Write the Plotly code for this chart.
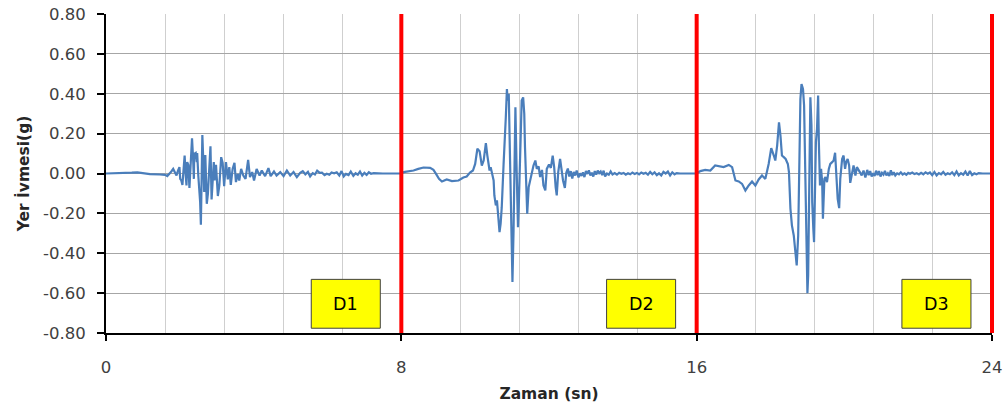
import plotly.graph_objects as go

# ---------------- data ----------------
# D1 record, 0-8 s
t1 = [0.0, 0.4, 0.7, 0.85, 1.0, 1.19, 1.46, 1.60, 1.66, 1.72, 1.77, 1.82, 1.87, 1.91, 1.95, 1.99,
      2.01, 2.04, 2.07, 2.10, 2.13, 2.16, 2.18, 2.20, 2.23, 2.26, 2.28, 2.33, 2.36, 2.38, 2.39,
      2.43, 2.46, 2.47, 2.50, 2.53, 2.55, 2.57, 2.59, 2.61, 2.64, 2.66, 2.69, 2.73, 2.76, 2.78,
      2.83, 2.86, 2.89, 2.92, 2.94, 2.98, 3.03, 3.07, 3.12, 3.16, 3.20, 3.25, 3.30, 3.34, 3.38,
      3.43, 3.48, 3.52, 3.57, 3.61, 3.66, 3.72, 3.78, 3.85, 3.90, 3.96, 4.01, 4.08, 4.16, 4.22,
      4.31, 4.40, 4.46, 4.55, 4.62, 4.72, 4.81, 4.90, 4.99, 5.08, 5.17, 5.26, 5.33, 5.40, 5.47,
      5.53, 5.60, 5.66, 5.72, 5.79, 5.85, 5.92, 5.98, 6.05, 6.11, 6.18, 6.25, 6.32, 6.38, 6.44,
      6.50, 6.57, 6.63, 6.70, 6.76, 6.82, 6.88, 6.94, 7.00, 7.06, 7.12, 7.18, 7.25, 7.50, 8.0]
a1 = [0.0, 0.001, 0.004, 0.006, 0.001, -0.003, -0.005, -0.007, -0.013, -0.003, 0.010, 0.023, 0.003,
      -0.010, 0.015, 0.032, -0.027, -0.035, -0.057, 0.023, 0.090, -0.010, -0.060, 0.057, 0.043,
      -0.073, -0.010, 0.177, 0.073, -0.027, 0.098, 0.103, 0.057, 0.103, -0.010, -0.077, -0.143,
      -0.257, -0.010, 0.193, 0.040, -0.093, 0.093, -0.152, -0.102, -0.027, 0.137, -0.130, -0.027,
      0.057, -0.035, 0.043, -0.113, -0.060, 0.082, 0.053, -0.063, 0.057, -0.030, 0.032, -0.057,
      0.023, 0.053, -0.043, -0.002, -0.035, 0.023, -0.010, -0.027, 0.068, -0.018, 0.007, -0.035,
      0.023, -0.010, 0.015, -0.013, 0.027, -0.013, 0.010, -0.010, 0.007, -0.013, 0.015, -0.010,
      0.007, -0.018, 0.003, 0.012, -0.004, 0.008, -0.015, 0.002, -0.005, 0.014, 0.003, 0.004,
      -0.008, -0.001, -0.006, 0.005, 0.001, 0.006, -0.010, 0.012, -0.015, -0.002, -0.008, 0.010,
      -0.012, 0.001, -0.006, 0.010, -0.010, 0.003, -0.007, 0.006, -0.001, 0.002, 0.0, 0.0]

# D2 record, 8-16 s
t2 = [8.0, 8.10, 8.33, 8.46, 8.60, 8.78, 8.87, 8.94, 9.02, 9.10, 9.23, 9.37, 9.55, 9.68, 9.77,
      9.86, 9.94, 10.00, 10.06, 10.12, 10.18, 10.23, 10.29, 10.33, 10.39, 10.42, 10.46, 10.50,
      10.52, 10.56, 10.59, 10.62, 10.66, 10.69, 10.72, 10.77, 10.80, 10.83, 10.86, 10.88, 10.91,
      10.94, 10.97, 10.99, 11.01, 11.04, 11.07, 11.09, 11.12, 11.16, 11.18, 11.22, 11.26, 11.30,
      11.33, 11.35, 11.38, 11.41, 11.45, 11.49, 11.54, 11.58, 11.63, 11.67, 11.72, 11.76, 11.81,
      11.85, 11.90, 11.94, 12.00, 12.05, 12.10, 12.14, 12.18, 12.21, 12.25, 12.30, 12.34, 12.38,
      12.43, 12.47, 12.51, 12.55, 12.59, 12.63, 12.67, 12.71, 12.75, 12.80, 12.84, 12.88, 12.92,
      12.96, 13.00, 13.04, 13.08, 13.12, 13.16, 13.20, 13.24, 13.28, 13.32, 13.36, 13.40, 13.44,
      13.48, 13.52, 13.57, 13.62, 13.67, 13.72, 13.78, 13.84, 13.90, 13.96, 14.02, 14.08, 14.14,
      14.20, 14.26, 14.32, 14.38, 14.44, 14.50, 14.56, 14.62, 14.68, 14.74, 14.80, 14.86, 14.92,
      14.98, 15.04, 15.10, 15.16, 15.22, 15.28, 15.34, 15.40, 15.46, 15.55, 16.0]
a2 = [0.003, 0.008, 0.015, 0.023, 0.030, 0.028, 0.018, -0.002, -0.027, -0.040, -0.030, -0.038,
      -0.035, -0.020, -0.015, 0.005, 0.015, 0.048, 0.124, 0.112, 0.040, 0.065, 0.152, 0.090,
      0.015, 0.032, -0.010, -0.035, -0.110, -0.160, -0.135, -0.219, -0.294, -0.252, -0.169,
      0.048, 0.215, 0.282, 0.424, 0.366, 0.399, 0.132, -0.202, -0.419, -0.544, -0.285, 0.332,
      0.332, 0.048, -0.269, -0.169, 0.132, 0.366, 0.382, 0.299, 0.132, -0.085, -0.202, -0.068,
      -0.035, 0.015, 0.040, 0.065, 0.023, 0.035, -0.018, 0.018, -0.060, -0.085, 0.023, 0.045,
      0.028, 0.090, 0.032, -0.068, -0.110, 0.007, 0.073, 0.020, -0.035, -0.072, 0.005, 0.025,
      -0.015, 0.012, -0.025, 0.008, -0.010, 0.015, -0.020, 0.001, -0.012, 0.006, -0.018, 0.012,
      -0.002, 0.016, -0.010, 0.004, -0.015, 0.012, -0.006, 0.015, 0.002, 0.010, -0.008, 0.014,
      -0.015, 0.000, -0.006, 0.010, -0.005, 0.002, -0.006, 0.004, -0.001, 0.003, -0.006, 0.001,
      -0.004, 0.005, -0.002, 0.003, -0.004, 0.005, -0.001, 0.004, -0.006, 0.008, -0.004, 0.006,
      -0.008, 0.001, -0.010, 0.008, 0.000, 0.010, -0.010, 0.006, -0.004, 0.002, 0.0, 0.0]

# D3 record, 16-24 s
t3 = [16.0, 16.10, 16.23, 16.37, 16.50, 16.64, 16.73, 16.87, 16.96, 17.05, 17.14, 17.23, 17.32,
      17.41, 17.50, 17.59, 17.68, 17.77, 17.86, 17.95, 18.02, 18.09, 18.13, 18.18, 18.23, 18.27,
      18.31, 18.36, 18.41, 18.47, 18.50, 18.54, 18.58, 18.63, 18.67, 18.71, 18.75, 18.78, 18.81,
      18.84, 18.88, 18.91, 18.94, 18.97, 19.00, 19.02, 19.05, 19.08, 19.11, 19.13, 19.16, 19.18,
      19.21, 19.23, 19.26, 19.29, 19.31, 19.34, 19.37, 19.40, 19.42, 19.46, 19.49, 19.53, 19.58,
      19.62, 19.67, 19.71, 19.75, 19.78, 19.82, 19.86, 19.89, 19.94, 19.98, 20.02, 20.05, 20.09,
      20.13, 20.16, 20.21, 20.25, 20.30, 20.34, 20.42, 20.47, 20.52, 20.57, 20.62, 20.66, 20.70,
      20.74, 20.78, 20.82, 20.86, 20.90, 20.94, 20.98, 21.02, 21.06, 21.10, 21.14, 21.18, 21.22,
      21.26, 21.30, 21.34, 21.38, 21.43, 21.48, 21.53, 21.58, 21.63, 21.68, 21.73, 21.78, 21.84,
      21.90, 21.96, 22.02, 22.08, 22.14, 22.20, 22.26, 22.32, 22.38, 22.44, 22.50, 22.56, 22.62,
      22.68, 22.74, 22.80, 22.86, 22.92, 22.98, 23.04, 23.10, 23.16, 23.22, 23.28, 23.34, 23.40,
      23.46, 23.52, 23.58, 23.64, 23.75, 24.0]
a3 = [0.0, 0.012, 0.018, 0.015, 0.040, 0.037, 0.032, 0.043, 0.032, -0.035, -0.040, -0.052,
      -0.085, -0.060, -0.040, -0.060, -0.030, -0.010, -0.027, 0.048, 0.127, 0.090, 0.065, 0.140,
      0.257, 0.190, 0.090, 0.082, 0.073, 0.048, 0.007, -0.177, -0.260, -0.311, -0.411, -0.461,
      -0.311, 0.157, 0.374, 0.449, 0.424, 0.341, 0.057, -0.260, -0.600, -0.511, -0.010, 0.382,
      0.240, -0.144, -0.277, -0.344, -0.043, 0.157, 0.224, 0.391, 0.157, -0.060, 0.023, -0.043,
      -0.227, -0.027, -0.018, -0.043, 0.023, 0.048, 0.057, 0.065, 0.104, 0.007, -0.127, -0.174,
      -0.027, 0.073, 0.090, 0.023, 0.057, 0.073, 0.040, -0.047, 0.007, 0.040, -0.010, 0.032,
      0.007, -0.010, 0.015, -0.020, 0.018, -0.008, 0.012, -0.015, 0.001, -0.012, 0.014, -0.008,
      0.012, -0.015, 0.003, -0.006, 0.013, -0.010, 0.001, -0.012, 0.016, -0.008, 0.006, -0.010,
      0.001, -0.004, 0.006, -0.005, 0.001, -0.006, 0.003, -0.001, 0.005, -0.003, 0.001, -0.005,
      0.003, -0.004, 0.006, -0.001, 0.005, -0.008, 0.008, -0.010, 0.002, -0.004, 0.008, -0.006,
      0.001, -0.004, 0.006, -0.008, 0.010, -0.010, 0.002, -0.006, 0.010, -0.010, 0.012, -0.008,
      0.001, -0.004, 0.002, 0.0, 0.0]

record_labels = ["D1", "D2", "D3"]
record_ends = [8, 16, 24]
x_range = [0, 24]
x_tick_vals = [0, 8, 16, 24]
x_tick_text = ["0", "8", "16", "24"]
y_range = [-0.8, 0.8]
y_tick_vals = [-0.8, -0.6, -0.4, -0.2, 0.0, 0.2, 0.4, 0.6, 0.8]
y_tick_text = ["-0.80", "-0.60", "-0.40", "-0.20", "0.00", "0.20", "0.40", "0.60", "0.80"]

# ---------------- figure ----------------
FONT = "DejaVu Sans"
time = t1 + t2 + t3
accel = a1 + a2 + a3

fig = go.Figure()
fig.add_trace(go.Scatter(x=time, y=accel, mode="lines",
                         line=dict(color="#4A7EBB", width=2.2), hoverinfo="x+y",
                         showlegend=False))

# red separators between records (domain-referenced so the last one is not clipped)
span = x_range[1] - x_range[0]
for xe in record_ends:
    xd = (xe - x_range[0]) / span
    fig.add_shape(type="line", xref="x domain", yref="y domain", x0=xd, x1=xd, y0=0, y1=1,
                  line=dict(color="#FF0000", width=4), layer="above")

# yellow label boxes (placed relative to each record's end)
for lab, xe in zip(record_labels, record_ends):
    fig.add_shape(type="rect", xref="x", yref="y", x0=xe - 2.44, x1=xe - 0.57,
                  y0=-0.776, y1=-0.531, fillcolor="#FFFF00",
                  line=dict(color="#404040", width=1), layer="above")
    fig.add_annotation(x=xe - 1.505, y=-0.654, xref="x", yref="y", text=lab,
                       showarrow=False, font=dict(family=FONT, size=17.5, color="#000000"))

grid_h = "#A6A6A6"
grid_v = "#CFCFCF"
fig.update_layout(
    width=1003, height=409,
    margin=dict(l=106, r=11, t=14, b=76, autoexpand=False),
    paper_bgcolor="white", plot_bgcolor="white",
    font=dict(family=FONT, color="#404040"),
    xaxis=dict(range=x_range, tickvals=x_tick_vals, ticktext=x_tick_text,
               showgrid=True, gridcolor=grid_v, gridwidth=1,
               minor=dict(tick0=0, dtick=1.6, showgrid=True, gridcolor=grid_v, gridwidth=1),
               showline=True, linecolor="#000000", linewidth=2,
               ticks="outside", ticklen=6, tickwidth=2, tickcolor="#000000",
               ticklabelstandoff=12,
               tickfont=dict(family=FONT, size=16.5, color="#404040"),
               zeroline=False, automargin=False,
               title=dict(text="<b>Zaman (sn)</b>", standoff=12,
                          font=dict(family=FONT, size=15.5, color="#262626"))),
    yaxis=dict(range=y_range, tickvals=y_tick_vals, ticktext=y_tick_text,
               showgrid=True, gridcolor=grid_h, gridwidth=1,
               showline=True, linecolor="#000000", linewidth=2,
               ticks="outside", ticklen=7, tickwidth=2, tickcolor="#000000",
               ticklabelstandoff=8,
               tickfont=dict(family=FONT, size=16.5, color="#404040"),
               zeroline=False, automargin=False,
               title=dict(text="<b>Yer İvmesi(g)</b>", standoff=10,
                          font=dict(family=FONT, size=15.5, color="#262626"))),
)

fig.write_html("out.html")
